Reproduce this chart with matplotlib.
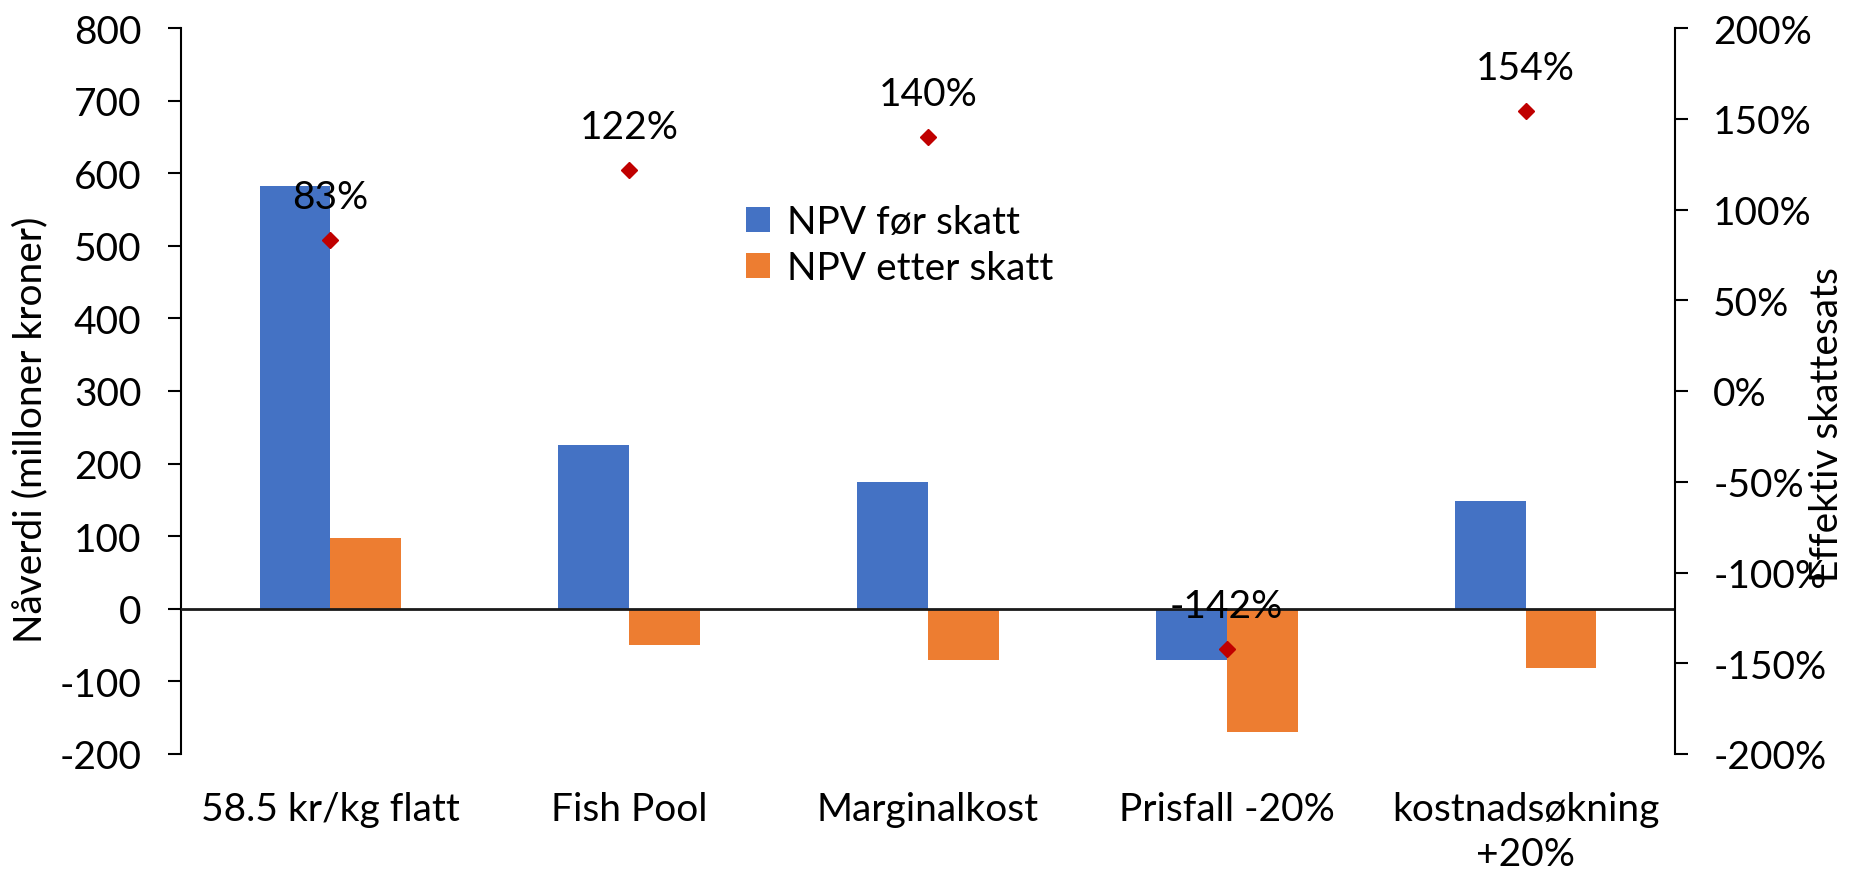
import matplotlib
matplotlib.use("Agg")
import matplotlib.pyplot as plt
from matplotlib.ticker import FuncFormatter
import numpy as np

categories = ["58.5 kr/kg flatt", "Fish Pool", "Marginalkost", "Prisfall -20%", "kostnadsøkning\n+20%"]
npv_before = [583, 226, 175, -70, 148]
npv_after = [98, -50, -70, -170, -81]
tax_rate = [83, 122, 140, -142, 154]  # percent

blue = "#4472C4"
orange = "#ED7D31"
red = "#C00000"

plt.rcParams["font.family"] = ["Lato", "DejaVu Sans"]
plt.rcParams["axes.unicode_minus"] = False
fs = 28

fig = plt.figure(figsize=(18.58, 8.78), dpi=100)
ax = fig.add_axes([181 / 1858, 1 - 755 / 878, (1675 - 181) / 1858, (755 - 29) / 878])

x = np.arange(len(categories))
w = 0.237
ax.bar(x - w / 2, npv_before, w, color=blue, label="NPV før skatt", zorder=2)
ax.bar(x + w / 2, npv_after, w, color=orange, label="NPV etter skatt", zorder=2)
ax.axhline(0, color="#1a1a1a", lw=2.0, zorder=3)

ax.set_xlim(-0.5, len(categories) - 0.5)
ax.set_ylim(-200, 800)
ax.set_yticks(range(-200, 801, 100))
ax.set_xticks(x)
ax.set_xticklabels(categories, fontsize=fs, linespacing=1.3)
ax.tick_params(axis="x", length=0, pad=27)
ax.tick_params(axis="y", labelsize=fs, length=9.5, width=1.5, pad=19, direction="out")
for s in ["top", "bottom", "right"]:
    ax.spines[s].set_visible(False)
ax.spines["left"].set_linewidth(1.5)

ax2 = ax.twinx()
ax2.set_ylim(-2, 2)
ax2.set_yticks(np.arange(-2, 2.01, 0.5))
ax2.yaxis.set_major_formatter(FuncFormatter(lambda v, p: f"{v * 100:.0f}%"))
ax2.tick_params(axis="y", labelsize=fs, length=9.5, width=1.5, pad=18, direction="out")
for s in ["top", "bottom", "left"]:
    ax2.spines[s].set_visible(False)
ax2.spines["right"].set_linewidth(1.5)

rates = np.array(tax_rate) / 100
ax2.plot(x, rates, linestyle="none", marker="D", markersize=8, color=red, zorder=4)
for xi, r, t in zip(x, rates, tax_rate):
    ax2.annotate(f"{t}%", (xi, r), xytext=(0, 31), textcoords="offset points",
                 ha="center", va="center", fontsize=fs, zorder=5)

fig.text(30 / 1858, 1 - 430 / 878, "Nåverdi (milloner kroner)", rotation=90,
         ha="center", va="center", fontsize=fs)
fig.text(1827 / 1858, 1 - 425 / 878, "Effektiv skattesats", rotation=90,
         ha="center", va="center", fontsize=fs)

fig.legend(loc="upper left", bbox_to_anchor=(727 / 1858, 1 - 186 / 878), frameon=False,
           fontsize=fs, handlelength=0.6, handleheight=0.6, handletextpad=0.45,
           labelspacing=0.25, borderpad=0)

fig.savefig("out.png", dpi=100)
